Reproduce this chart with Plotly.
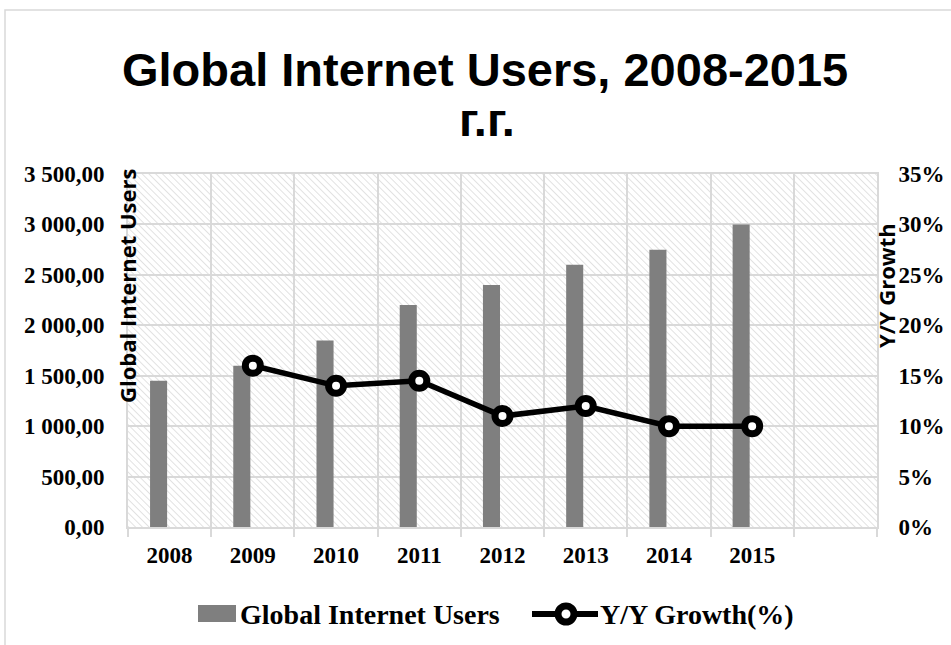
import base64
import plotly.graph_objects as go

# ---- data -------------------------------------------------------------
years = ["2008", "2009", "2010", "2011", "2012", "2013", "2014", "2015"]
users = [1450, 1600, 1850, 2200, 2400, 2600, 2750, 3000]          # millions
growth_years = ["2009", "2010", "2011", "2012", "2013", "2014", "2015"]
growth = [16, 14, 14.5, 11, 12, 10, 10]                            # % y/y
categories = years + [" "]                                         # trailing empty slot
users_ticks = list(range(0, 3501, 500))
growth_ticks = list(range(0, 36, 5))
growth_labels = [f"{v}%" for v in growth_ticks]

# ---- geometry helpers (figure pixels -> paper coords) -------------------
W, H = 951, 645
L, R, T, B = 128, 877, 174, 527
PW, PH = R - L, B - T


def px(x):
    return (x - L) / PW


def py(y):
    return (B - y) / PH


GRID = "#d9d9d9"
SERIF = "Liberation Serif"
SANS = "Liberation Sans"
UI = "Open Sans"


def tick_font():
    return dict(family=SERIF, size=23, color="black", weight="bold")


fig = go.Figure()

fig.add_trace(go.Bar(
    x=years, y=users, name="Global Internet Users",
    width=0.205, offset=-0.235,
    marker=dict(color="#7f7f7f", line=dict(width=0)),
    xaxis="x", yaxis="y", showlegend=False,
))

fig.add_trace(go.Scatter(
    x=growth_years, y=growth, name="Y/Y Growth(%)",
    mode="lines+markers", xaxis="x", yaxis="y2",
    line=dict(color="black", width=5.5),
    marker=dict(symbol="circle", size=15, color="white",
                line=dict(color="black", width=7)),
    showlegend=False,
))

# hatched plot-area background
svg = (
    f'<svg xmlns="http://www.w3.org/2000/svg" width="{PW}" height="{PH}">'
    '<defs><pattern id="p" width="4.8" height="4.8" patternUnits="userSpaceOnUse" '
    'patternTransform="rotate(-45)">'
    '<line x1="0" y1="0" x2="0" y2="4.8" stroke="#d2d2d2" stroke-width="1.3"/>'
    '</pattern></defs><rect width="100%" height="100%" fill="url(#p)"/></svg>'
)
hatch_src = "data:image/svg+xml;base64," + base64.b64encode(svg.encode()).decode()

fig.update_layout(
    width=W, height=H,
    margin=dict(l=L, r=W - R, t=T, b=H - B, pad=0, autoexpand=False),
    paper_bgcolor="white", plot_bgcolor="white",
    separators=", ",
    barmode="overlay",
    showlegend=False,
    images=[dict(source=hatch_src, xref="paper", yref="paper", x=0, y=1,
                 sizex=1, sizey=1, xanchor="left", yanchor="top",
                 sizing="stretch", layer="below")],
)

fig.update_xaxes(
    type="category", categoryorder="array", categoryarray=categories,
    range=[-0.5, len(categories) - 0.5], automargin=False,
    tickson="boundaries", showgrid=True, gridcolor=GRID, gridwidth=2,
    ticks="outside", ticklen=8, tickwidth=2, tickcolor=GRID,
    ticklabelstandoff=6,
    showline=True, linecolor=GRID, linewidth=2, mirror=True,
    tickfont=tick_font(), fixedrange=True,
)

fig.layout.yaxis = go.layout.YAxis(
    range=[0, 3500], tickmode="array", tickvals=users_ticks, tickformat=",.2f",
    automargin=False,
    showgrid=True, gridcolor=GRID, gridwidth=2, zeroline=False,
    showline=True, linecolor=GRID, linewidth=2, mirror=True,
    ticks="outside", ticklen=17, tickcolor="rgba(0,0,0,0)",
    tickfont=tick_font(), fixedrange=True,
)

fig.layout.yaxis2 = go.layout.YAxis(
    overlaying="y", side="right", anchor="x", range=[0, 35],
    tickmode="array", tickvals=growth_ticks, ticktext=growth_labels,
    automargin=False,
    showgrid=False, zeroline=False, showline=False,
    ticks="outside", ticklen=16, tickcolor="rgba(0,0,0,0)",
    tickfont=tick_font(), fixedrange=True,
)

shapes = [
    # chart frame
    dict(type="rect", xref="paper", yref="paper",
         x0=px(5), x1=px(960), y0=py(10), y1=py(660),
         line=dict(color=GRID, width=1.5), fillcolor="rgba(0,0,0,0)"),
    # legend: bar swatch
    dict(type="rect", xref="paper", yref="paper",
         x0=px(198), x1=px(236), y0=py(605), y1=py(622),
         line=dict(width=0), fillcolor="#7f7f7f"),
    # legend: line + marker
    dict(type="line", xref="paper", yref="paper",
         x0=px(532), x1=px(598), y0=py(614), y1=py(614),
         line=dict(color="black", width=6)),
    dict(type="circle", xref="paper", yref="paper",
         x0=px(566 - 8), x1=px(566 + 8), y0=py(614 + 8), y1=py(614 - 8),
         line=dict(color="black", width=7), fillcolor="white"),
]

annotations = [
    dict(text="Global Internet Users, 2008-2015", xref="paper", yref="paper",
         x=px(485), y=py(70), xanchor="center", yanchor="middle", showarrow=False,
         font=dict(family=SANS, size=47, color="black", weight="bold")),
    dict(text="г.г.", xref="paper", yref="paper",
         x=px(487), y=py(120), xanchor="center", yanchor="middle", showarrow=False,
         font=dict(family=SANS, size=47, color="black", weight="bold")),
    dict(text="Global Internet Users", xref="paper", yref="paper",
         x=px(127), y=py(286), xanchor="center", yanchor="middle", showarrow=False,
         textangle=-90,
         font=dict(family=UI, size=22, color="black", weight="bold")),
    dict(text="Y/Y Growth", xref="paper", yref="paper",
         x=px(886), y=py(285), xanchor="center", yanchor="middle", showarrow=False,
         textangle=-90,
         font=dict(family=UI, size=22, color="black", weight="bold")),
    dict(text="Global Internet Users", xref="paper", yref="paper",
         x=px(238), y=py(614), xanchor="left", yanchor="middle", showarrow=False,
         font=dict(family=SERIF, size=28, color="black", weight="bold")),
    dict(text="Y/Y Growth(%)", xref="paper", yref="paper",
         x=px(598), y=py(614), xanchor="left", yanchor="middle", showarrow=False,
         font=dict(family=SERIF, size=28, color="black", weight="bold")),
]

fig.update_layout(shapes=shapes, annotations=annotations)

fig.write_html("out.html", config={"displayModeBar": False})
